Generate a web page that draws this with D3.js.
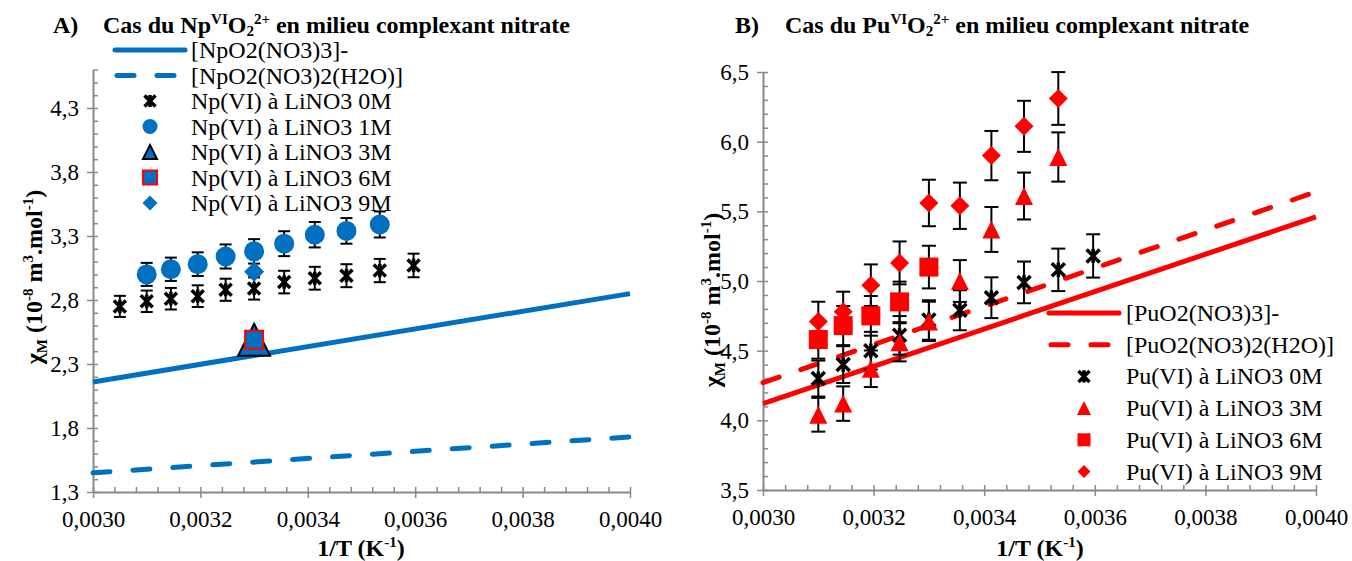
<!DOCTYPE html>
<html><head><meta charset="utf-8">
<script src="https://cdn.jsdelivr.net/npm/d3@7"></script>
<style>
body{margin:0;background:#fff}
svg{display:block}
text{font-family:"Liberation Serif","Times New Roman",serif;fill:#000}
</style>
</head><body>
<svg id="c" width="1352" height="561"></svg>
<script>
// ---------------- DATA ----------------
// Panel A (Np)
const npX0M = [0.00305, 0.00310, 0.003145, 0.003195, 0.003247, 0.00330, 0.003356, 0.003413, 0.003472, 0.003534, 0.003597];
const npY0M = [2.75, 2.79, 2.81, 2.83, 2.88, 2.89, 2.94, 2.97, 2.99, 3.03, 3.07];
const npX1M = [0.00310, 0.003145, 0.003195, 0.003247, 0.00330, 0.003356, 0.003413, 0.003472, 0.003534];
const npY1M = [3.00, 3.04, 3.08, 3.14, 3.18, 3.24, 3.31, 3.34, 3.39];
const npX3M = [0.00330];
const npY3M = [2.49];
const npX6M = [0.00330];
const npY6M = [2.49];
const npX9M = [0.00330];
const npY9M = [3.02];
const npLineX = [0.0030, 0.0040];
const npLine3 = [2.16, 2.85];   // [NpO2(NO3)3]-
const npLine2 = [1.45, 1.73];   // [NpO2(NO3)2(H2O)]
const npXTicks = [0.0030, 0.0032, 0.0034, 0.0036, 0.0038, 0.0040];
const npYTicks = [1.3, 1.8, 2.3, 2.8, 3.3, 3.8, 4.3];
const npYDomain = [1.3, 4.6];

// Panel B (Pu)
const puX0M = [0.00310, 0.003145, 0.003195, 0.003247, 0.00330, 0.003356, 0.003413, 0.003472, 0.003534, 0.003597];
const puY0M = [4.30, 4.40, 4.50, 4.61, 4.72, 4.79, 4.88, 4.99, 5.08, 5.18];
const puX3M = [0.00310, 0.003145, 0.003195, 0.003247, 0.00330, 0.003356, 0.003413, 0.003472, 0.003534];
const puY3M = [4.04, 4.12, 4.37, 4.56, 4.71, 5.00, 5.37, 5.61, 5.89];
const puX6M = [0.00310, 0.003145, 0.003195, 0.003247, 0.00330];
const puY6M = [4.58, 4.68, 4.75, 4.85, 5.10];
const puX9M = [0.00310, 0.003145, 0.003195, 0.003247, 0.00330, 0.003356, 0.003413, 0.003472, 0.003534];
const puY9M = [4.71, 4.78, 4.97, 5.13, 5.56, 5.54, 5.90, 6.11, 6.31];
const puLineX = [0.0030, 0.0040];
const puLine3 = [4.12, 5.46];   // [PuO2(NO3)3]-
const puLine2 = [4.27, 5.64];   // [PuO2(NO3)2(H2O)]
const puXTicks = [0.0030, 0.0032, 0.0034, 0.0036, 0.0038, 0.0040];
const puYTicks = [3.5, 4.0, 4.5, 5.0, 5.5, 6.0, 6.5];
const puYDomain = [3.5, 6.5];

const errPct = 0.03; // percentage error bars

const npLabels = ["[NpO2(NO3)3]-", "[NpO2(NO3)2(H2O)]", "Np(VI) à LiNO3 0M", "Np(VI) à LiNO3 1M",
                  "Np(VI) à LiNO3 3M", "Np(VI) à LiNO3 6M", "Np(VI) à LiNO3 9M"];
const puLabels = ["[PuO2(NO3)3]-", "[PuO2(NO3)2(H2O)]", "Pu(VI) à LiNO3 0M", "Pu(VI) à LiNO3 3M",
                  "Pu(VI) à LiNO3 6M", "Pu(VI) à LiNO3 9M"];

// ---------------- DRAWING ----------------
const BLUE = "#0070C0", RED = "#FF0000", GRAY = "#898989";
const FS_TICK = 23, FS_LEG = 24, FS_TITLE = 24, FS_SUP = 15;
const svg = d3.select("#c");

function zip(xs, ys) { return xs.map((x, i) => ({x: x, y: ys[i]})); }
function range(a, b, step) { const r = []; for (let v = a; v <= b + step / 1000; v += step) r.push(+v.toFixed(6)); return r; }

function marker(g, type, cx, cy, s, fill, stroke, sw) {
  let el;
  if (type === "circle") {
    el = g.append("circle").attr("cx", cx).attr("cy", cy).attr("r", s);
  } else if (type === "square") {
    el = g.append("rect").attr("x", cx - s).attr("y", cy - s).attr("width", 2 * s).attr("height", 2 * s);
  } else if (type === "diamond") {
    el = g.append("path").attr("d", `M${cx},${cy - s}L${cx + s},${cy}L${cx},${cy + s}L${cx - s},${cy}Z`);
  } else if (type === "triangle") {
    el = g.append("path").attr("d", `M${cx},${cy - s}L${cx + s},${cy + s}L${cx - s},${cy + s}Z`);
  } else if (type === "star") {
    el = g.append("path").attr("d",
      `M${cx - s},${cy - s}L${cx + s},${cy + s}M${cx - s},${cy + s}L${cx + s},${cy - s}M${cx},${cy - s * 1.1}L${cx},${cy + s * 1.1}`);
    el.attr("fill", "none").attr("stroke", "#000").attr("stroke-width", sw || 3.5);
    return;
  }
  el.attr("fill", fill).attr("stroke", stroke || "none").attr("stroke-width", stroke ? (sw || 2) : 0);
}

function axes(g, x, y, xTicks, yTicks, yDom) {
  const fmtX = d => d3.format(".4f")(d).replace(".", ",");
  const fmtY = d => d3.format(".1f")(d).replace(".", ",");
  const y0 = y(yDom[0]);
  const x0 = x.range()[0];
  const minorX = range(0.003, 0.004, 0.00004).filter(v => !xTicks.some(t => Math.abs(t - v) < 1e-7));
  const minorY = range(yDom[0], yDom[1], 0.1).filter(v => !yTicks.some(t => Math.abs(t - v) < 1e-7));

  const xm = g.append("g").attr("transform", `translate(0,${y0})`)
    .call(d3.axisTop(x).tickValues(minorX).tickSize(5).tickFormat(""));
  xm.select(".domain").remove();
  const ym = g.append("g").attr("transform", `translate(${x0},0)`)
    .call(d3.axisRight(y).tickValues(minorY).tickSize(5).tickFormat(""));
  ym.select(".domain").remove();

  const xa = g.append("g").attr("transform", `translate(0,${y0})`)
    .call(d3.axisBottom(x).tickValues(xTicks).tickSize(6).tickSizeOuter(0).tickPadding(13).tickFormat(fmtX));
  xa.selectAll(".tick line").attr("y1", -5);
  const ya = g.append("g").attr("transform", `translate(${x0},0)`)
    .call(d3.axisLeft(y).tickValues(yTicks).tickSize(6).tickSizeOuter(0).tickPadding(8).tickFormat(fmtY));
  ya.selectAll(".tick line").attr("x1", 5);

  [xm, ym, xa, ya].forEach(a => {
    a.attr("font-family", null);
    a.selectAll("line").attr("stroke", GRAY).attr("stroke-width", 1.5);
    a.selectAll(".domain").attr("stroke", GRAY).attr("stroke-width", 2);
    a.selectAll("text").attr("font-size", FS_TICK);
  });
}

function errBars(g, x, y, data, cap) {
  data.forEach(d => {
    const e = d.y * errPct;
    const xp = x(d.x), yt = y(d.y + e), yb = y(d.y - e);
    g.append("line").attr("x1", xp).attr("x2", xp).attr("y1", yt).attr("y2", yb);
    g.append("line").attr("x1", xp - cap).attr("x2", xp + cap).attr("y1", yt).attr("y2", yt);
    g.append("line").attr("x1", xp - cap).attr("x2", xp + cap).attr("y1", yb).attr("y2", yb);
  });
  g.selectAll("line").attr("stroke", "#000").attr("stroke-width", 2);
}

function lineSeries(g, x, y, xs, ys, color, dashed) {
  const p = g.append("path").datum(zip(xs, ys))
    .attr("d", d3.line().x(d => x(d.x)).y(d => y(d.y)))
    .attr("fill", "none").attr("stroke", color).attr("stroke-width", 5);
  if (dashed) p.attr("stroke-dasharray", "17,23").attr("stroke-linecap", "round");
}

function yTitle(g, cx, cy) {
  const t = g.append("text").attr("transform", `translate(${cx},${cy}) rotate(-90)`)
    .attr("text-anchor", "middle").attr("font-size", FS_TITLE).attr("font-weight", "bold");
  t.append("tspan").text("χ");
  t.append("tspan").attr("font-size", FS_SUP).attr("dy", 5).text("M");
  t.append("tspan").attr("dy", -5).text(" (10");
  t.append("tspan").attr("font-size", FS_SUP).attr("dy", -9).text("-8");
  t.append("tspan").attr("dy", 9).text(" m");
  t.append("tspan").attr("font-size", FS_SUP).attr("dy", -9).text("3");
  t.append("tspan").attr("dy", 9).text(".mol");
  t.append("tspan").attr("font-size", FS_SUP).attr("dy", -9).text("-1");
  t.append("tspan").attr("dy", 9).text(")");
}

function xTitle(g, cx, cy) {
  const t = g.append("text").attr("x", cx).attr("y", cy).attr("text-anchor", "middle")
    .attr("font-size", FS_TITLE).attr("font-weight", "bold");
  t.append("tspan").text("1/T (K");
  t.append("tspan").attr("font-size", FS_SUP).attr("dy", -9).text("-1");
  t.append("tspan").attr("dy", 9).text(")");
}

function title(g, x0, x1, y, letter, elem) {
  g.append("text").attr("x", x0).attr("y", y).attr("font-size", FS_TITLE).attr("font-weight", "bold").text(letter);
  const t = g.append("text").attr("x", x1).attr("y", y).attr("font-size", FS_TITLE).attr("font-weight", "bold");
  t.append("tspan").text("Cas du " + elem);
  t.append("tspan").attr("font-size", FS_SUP).attr("dy", -9).text("VI");
  t.append("tspan").attr("dy", 9).text("O");
  t.append("tspan").attr("font-size", FS_SUP).attr("dy", 3).text("2");
  t.append("tspan").attr("font-size", FS_SUP).attr("dy", -12).text("2+");
  t.append("tspan").attr("dy", 9).text(" en milieu complexant nitrate");
}

// ---------- Panel A ----------
{
  const g = svg.append("g");
  const x = d3.scaleLinear().domain([0.0030, 0.0040]).range([93, 630]);
  const y = d3.scaleLinear().domain(npYDomain).range([492, 69.6]);
  axes(g, x, y, npXTicks, npYTicks, npYDomain);
  lineSeries(g, x, y, npLineX, npLine3, BLUE, false);
  lineSeries(g, x, y, npLineX, npLine2, BLUE, true);
  const eb = g.append("g");
  errBars(eb, x, y, zip(npX0M, npY0M), 6);
  errBars(eb, x, y, zip(npX1M, npY1M), 6);
  const mk = g.append("g");
  zip(npX0M, npY0M).forEach(d => marker(mk, "star", x(d.x), y(d.y), 6));
  zip(npX1M, npY1M).forEach(d => marker(mk, "circle", x(d.x), y(d.y), 10, BLUE));
  zip(npX3M, npY3M).forEach(d => marker(mk, "triangle", x(d.x), y(d.y), 16, BLUE, "#000", 2));
  zip(npX6M, npY6M).forEach(d => marker(mk, "square", x(d.x), y(d.y), 9, BLUE, RED, 2));
  zip(npX9M, npY9M).forEach(d => marker(mk, "diamond", x(d.x), y(d.y), 10, BLUE));

  // legend
  const lg = g.append("g");
  const lx0 = 115, lx1 = 185, mx = 150, tx = 191, ly0 = 50, dy = 25.5;
  npLabels.forEach((lab, i) => {
    const cy = ly0 + i * dy;
    lg.append("text").attr("x", tx).attr("y", cy + 8).attr("font-size", FS_LEG).text(lab);
    if (i === 0 || i === 1) {
      const p = lg.append("line").attr("x1", lx0).attr("x2", lx1).attr("y1", cy).attr("y2", cy)
        .attr("stroke", BLUE).attr("stroke-width", 5).attr("stroke-linecap", "round");
      if (i === 1) p.attr("stroke-dasharray", "17,23").attr("x1", lx0 + 2).attr("x2", lx1 - 2);
    }
  });
  marker(lg, "star", mx, ly0 + 2 * dy, 5.5);
  marker(lg, "circle", mx, ly0 + 3 * dy, 7.5, BLUE);
  marker(lg, "triangle", mx, ly0 + 4 * dy, 7, BLUE, "#000", 2);
  marker(lg, "square", mx, ly0 + 5 * dy, 7, BLUE, RED, 2);
  marker(lg, "diamond", mx, ly0 + 6 * dy, 7.5, BLUE);

  title(g, 53, 103, 33, "A)", "Np");
  xTitle(g, 361, 556);
  yTitle(g, 42, 277);
}

// ---------- Panel B ----------
{
  const g = svg.append("g");
  const x = d3.scaleLinear().domain([0.0030, 0.0040]).range([763, 1316]);
  const y = d3.scaleLinear().domain(puYDomain).range([490, 72]);
  axes(g, x, y, puXTicks, puYTicks, puYDomain);
  lineSeries(g, x, y, puLineX, puLine3, RED, false);
  lineSeries(g, x, y, puLineX, puLine2, RED, true);
  const eb = g.append("g");
  errBars(eb, x, y, zip(puX0M, puY0M), 7);
  errBars(eb, x, y, zip(puX3M, puY3M), 7);
  errBars(eb, x, y, zip(puX6M, puY6M), 7);
  errBars(eb, x, y, zip(puX9M, puY9M), 7);
  const mk = g.append("g");
  zip(puX0M, puY0M).forEach(d => marker(mk, "star", x(d.x), y(d.y), 6.5));
  zip(puX3M, puY3M).forEach(d => marker(mk, "triangle", x(d.x), y(d.y), 9, RED));
  zip(puX6M, puY6M).forEach(d => marker(mk, "square", x(d.x), y(d.y), 9.5, RED));
  zip(puX9M, puY9M).forEach(d => marker(mk, "diamond", x(d.x), y(d.y), 9.5, RED));

  const lg = g.append("g");
  const lx0 = 1049, lx1 = 1119, mx = 1084, tx = 1126, ly0 = 313, dy = 31.7;
  puLabels.forEach((lab, i) => {
    const cy = ly0 + i * dy;
    lg.append("text").attr("x", tx).attr("y", cy + 8).attr("font-size", FS_LEG).text(lab);
    if (i === 0 || i === 1) {
      const p = lg.append("line").attr("x1", lx0).attr("x2", lx1).attr("y1", cy).attr("y2", cy)
        .attr("stroke", RED).attr("stroke-width", 5).attr("stroke-linecap", "round");
      if (i === 1) p.attr("stroke-dasharray", "17,23").attr("x1", lx0 + 2).attr("x2", lx1 - 2);
    }
  });
  marker(lg, "star", mx, ly0 + 2 * dy, 5.5);
  marker(lg, "triangle", mx, ly0 + 3 * dy, 7, RED);
  marker(lg, "square", mx, ly0 + 4 * dy, 6.5, RED);
  marker(lg, "diamond", mx, ly0 + 5 * dy, 6.5, RED);

  title(g, 735, 785, 33, "B)", "Pu");
  xTitle(g, 1040, 556);
  yTitle(g, 720, 300);
}
</script>
</body></html>
